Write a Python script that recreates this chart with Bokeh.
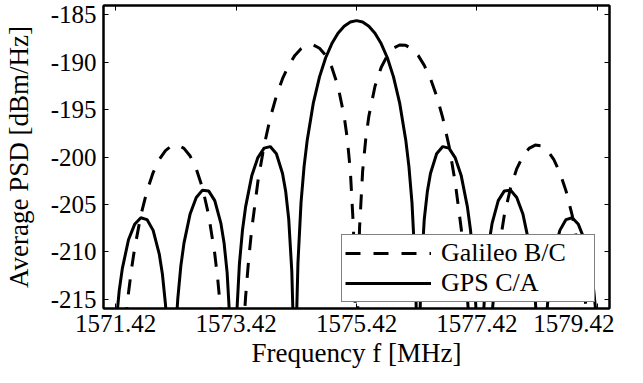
from bokeh.plotting import figure
from bokeh.models import (Range1d, FixedTicker, PrintfTickFormatter, LinearAxis,
                          Legend, LegendItem)
from bokeh.embed import file_html
from bokeh.resources import INLINE

# GPS C/A average PSD (dBm/Hz) vs frequency (MHz)
gps_freq_mhz = [
    1571.430, 1571.481, 1571.533, 1571.635, 1571.737, 1571.840, 1571.942, 1572.044, 1572.146, 1572.198, 1572.249, 1572.274,
    1572.428, 1572.453, 1572.504, 1572.556, 1572.658, 1572.760, 1572.863, 1572.965, 1573.067, 1573.169, 1573.221, 1573.272, 1573.323,
    1573.425, 1573.476, 1573.527, 1573.579, 1573.681, 1573.783, 1573.886, 1573.988, 1574.090, 1574.192, 1574.244, 1574.295, 1574.346, 1574.371,
    1574.423, 1574.448, 1574.499, 1574.550, 1574.602, 1574.704, 1574.806, 1574.908, 1575.011, 1575.113, 1575.215, 1575.318, 1575.420,
    1575.522, 1575.625, 1575.727, 1575.829, 1575.932, 1576.034, 1576.136, 1576.238, 1576.290, 1576.341, 1576.392, 1576.417,
    1576.469, 1576.494, 1576.545, 1576.597, 1576.648, 1576.750, 1576.852, 1576.955, 1577.057, 1577.159, 1577.261, 1577.313, 1577.364, 1577.415,
    1577.517, 1577.568, 1577.620, 1577.671, 1577.773, 1577.875, 1577.978, 1578.080, 1578.182, 1578.284, 1578.336, 1578.387, 1578.412,
    1578.566, 1578.591, 1578.643, 1578.694, 1578.796, 1578.898, 1579.001, 1579.103, 1579.205, 1579.307, 1579.359, 1579.410,
]
gps_psd_dbm_hz = [
    -217.56, -214.11, -211.76, -208.74, -207.11, -206.42, -206.61, -207.75, -210.26, -212.37, -215.57, -217.94,
    -217.50, -214.99, -211.50, -209.10, -206.01, -204.28, -203.50, -203.58, -204.61, -207.01, -209.05, -212.18, -217.89,
    -217.45, -211.32, -207.74, -205.27, -201.99, -200.06, -199.06, -198.90, -199.66, -201.74, -203.61, -206.57, -212.07, -217.87,
    -217.43, -211.20, -204.82, -200.99, -198.22, -194.28, -191.54, -189.52, -188.02, -186.92, -186.18, -185.74, -185.60,
    -185.74, -186.18, -186.92, -188.02, -189.52, -191.54, -194.28, -198.22, -200.99, -204.82, -211.20, -217.43,
    -217.87, -212.07, -206.57, -203.61, -201.74, -199.66, -198.90, -199.06, -200.06, -201.99, -205.27, -207.74, -211.32, -217.45,
    -217.89, -212.18, -209.05, -207.01, -204.61, -203.58, -203.50, -204.28, -206.01, -209.10, -211.50, -214.99, -217.50,
    -217.94, -215.57, -212.37, -210.26, -207.75, -206.61, -206.42, -207.11, -208.74, -211.76, -214.11, -217.56,
]

# Galileo B/C average PSD (dBm/Hz) vs frequency (MHz)
gal_freq_mhz = [
    1571.584, 1571.635, 1571.686, 1571.737, 1571.840, 1571.942, 1572.044, 1572.146, 1572.249, 1572.351, 1572.453, 1572.556, 1572.658, 1572.760, 1572.863, 1572.965, 1573.067, 1573.118, 1573.169,
    1573.527, 1573.579, 1573.630, 1573.681, 1573.783, 1573.886, 1573.988, 1574.090, 1574.192, 1574.295, 1574.397, 1574.499, 1574.602, 1574.704, 1574.806, 1574.908, 1575.011, 1575.113, 1575.215, 1575.267, 1575.318, 1575.369, 1575.394, 1575.410,
    1575.430, 1575.446, 1575.471, 1575.522, 1575.574, 1575.625, 1575.727, 1575.829, 1575.932, 1576.034, 1576.136, 1576.238, 1576.341, 1576.443, 1576.545, 1576.648, 1576.750, 1576.852, 1576.955, 1577.057, 1577.159, 1577.210, 1577.261, 1577.313,
    1577.671, 1577.722, 1577.773, 1577.875, 1577.978, 1578.080, 1578.182, 1578.284, 1578.387, 1578.489, 1578.591, 1578.694, 1578.796, 1578.898, 1579.001, 1579.103, 1579.154, 1579.205, 1579.256,
]
gal_psd_dbm_hz = [
    -217.44, -214.35, -211.80, -209.64, -206.17, -203.58, -201.64, -200.25, -199.32, -198.81, -198.74, -199.09, -199.90, -201.25, -203.25, -206.11, -210.22, -213.00, -216.52,
    -219.89, -214.78, -210.82, -207.60, -202.59, -198.81, -195.87, -193.55, -191.73, -190.32, -189.27, -188.57, -188.21, -188.17, -188.51, -189.27, -190.55, -192.53, -195.69, -198.07, -201.49, -207.45, -213.47, -221.43,
    -221.43, -213.47, -207.45, -201.49, -198.07, -195.69, -192.53, -190.55, -189.27, -188.51, -188.17, -188.21, -188.57, -189.27, -190.32, -191.73, -193.55, -195.87, -198.81, -202.59, -207.60, -210.82, -214.78, -219.89,
    -216.52, -213.00, -210.22, -206.11, -203.25, -201.25, -199.90, -199.09, -198.74, -198.81, -199.32, -200.25, -201.64, -203.58, -206.17, -209.64, -211.80, -214.35, -217.44,
]

x_ticks = [1571.42, 1573.42, 1575.42, 1577.42, 1579.42]
y_ticks = [-215, -210, -205, -200, -195, -190, -185]
series_labels = ["Galileo B/C", "GPS C/A"]
x_label = "Frequency f [MHz]"
y_label = "Average PSD [dBm/Hz]"

FONT = "Liberation Serif"
INK = "#000000"
TICK_FS = "25px"
LABEL_FS = "27px"

# frame size fixed directly (no min_border settings)
p = figure(frame_width=506, frame_height=303, output_backend="svg",
           toolbar_location=None,
           x_range=Range1d(1571.22, 1579.62), y_range=Range1d(-216, -184))
p.xgrid.grid_line_color = None
p.ygrid.grid_line_color = None
p.outline_line_color = INK
p.outline_line_width = 2

gal = p.line(gal_freq_mhz, gal_psd_dbm_hz, line_color=INK, line_width=3,
             line_dash="15 13")
gps = p.line(gps_freq_mhz, gps_psd_dbm_hz, line_color=INK, line_width=3)


def style_axis(ax, ticks, show_labels):
    ax.ticker = FixedTicker(ticks=ticks)
    ax.major_tick_in = 5
    ax.major_tick_out = 0
    ax.minor_tick_line_color = None
    ax.major_tick_line_width = 1
    ax.major_tick_line_color = INK
    ax.axis_line_width = 2
    ax.axis_line_color = INK
    ax.major_label_text_font = FONT
    ax.major_label_text_color = INK
    ax.major_label_text_font_size = TICK_FS
    if not show_labels:
        ax.major_label_overrides = {t: "" for t in ticks}
        ax.major_label_standoff = 0


xa = p.xaxis[0]
style_axis(xa, x_ticks, True)
xa.formatter = PrintfTickFormatter(format="%.2f")
xa.major_label_standoff = 6
xa.axis_label = x_label
xa.axis_label_text_font = FONT
xa.axis_label_text_font_size = LABEL_FS
xa.axis_label_text_font_style = "normal"
xa.axis_label_text_color = INK
xa.axis_label_standoff = 3

ya = p.yaxis[0]
style_axis(ya, y_ticks, True)
ya.major_label_overrides = {t: "%d" % t for t in y_ticks}
ya.major_label_standoff = 7
ya.axis_label = y_label
ya.axis_label_text_font = FONT
ya.axis_label_text_font_size = LABEL_FS
ya.axis_label_text_font_style = "normal"
ya.axis_label_text_color = INK
ya.axis_label_standoff = 14

top = LinearAxis()
style_axis(top, x_ticks, False)
p.add_layout(top, "above")
right = LinearAxis()
style_axis(right, y_ticks, False)
p.add_layout(right, "right")

legend = Legend(items=[LegendItem(label=series_labels[0], renderers=[gal]),
                       LegendItem(label=series_labels[1], renderers=[gps])],
                location=(238, 6))
legend.label_text_font = FONT
legend.label_text_font_size = "26px"
legend.label_text_color = INK
legend.glyph_width = 86
legend.glyph_height = 24
legend.label_height = 24
legend.label_width = 150
legend.label_standoff = 10
legend.padding = 3
legend.spacing = 0
legend.margin = 0
legend.border_line_color = INK
legend.border_line_width = 1.5
legend.background_fill_color = "#ffffff"
legend.background_fill_alpha = 1.0
p.add_layout(legend)

open("out.html", "w").write(file_html(p, INLINE))
